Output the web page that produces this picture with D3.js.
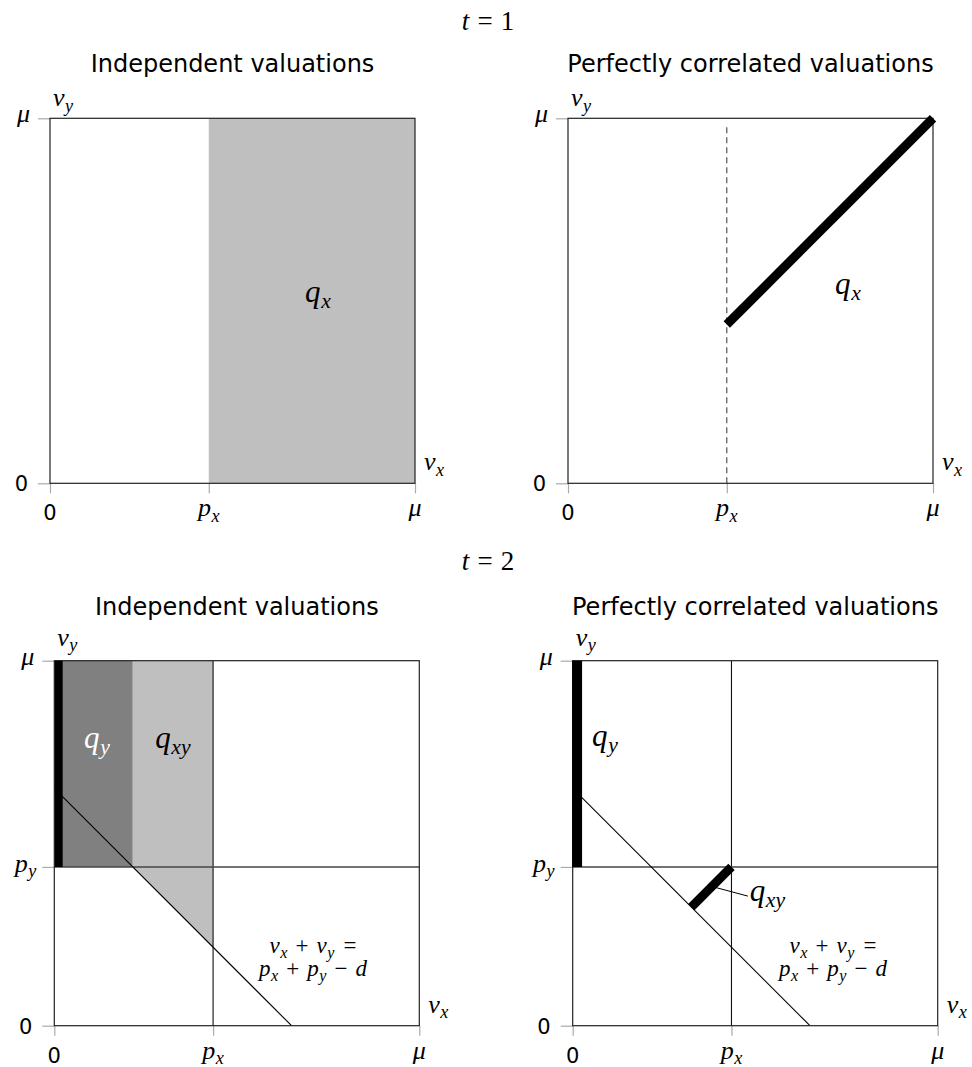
<!DOCTYPE html>
<meta charset="utf-8">
<title>Valuations t=1, t=2</title>
<style>
  body { margin: 0; background: #fff; }
  svg text { white-space: pre; }
  .mi { font-family: "Liberation Serif", "DejaVu Serif", serif; font-style: italic; }
  .mr { font-family: "Liberation Serif", "DejaVu Serif", serif; }
  .sans { font-family: "DejaVu Sans", sans-serif; }
  .tick line { stroke: #aaa; stroke-width: 1.2px; }
</style>
<body>
<svg width="972" height="1067"></svg>
<script src="https://d3js.org/d3.v7.min.js"></script>
<script>
  // thresholds (share of mu)
  const px = 0.435;
  const py = 0.435;

  const panelTitles = ["Independent valuations", "Perfectly correlated valuations"];
  const periodLabels = ["1", "2"];

  // ticks
  const xTickValues = [0, px, 1];
  const xTickNames = ["0", "p", "μ"];
  const xTickSubs = [null, "x", null];
  const yTickValuesT1 = [0, 1];
  const yTickNamesT1 = ["0", "μ"];
  const yTickSubsT1 = [null, null];
  const yTickValuesT2 = [0, py, 1];
  const yTickNamesT2 = ["0", "p", "μ"];
  const yTickSubsT2 = [null, "y", null];

  // regions and segments, in (v_x, v_y)
  const t1IndepRegion = [[0.435, 0], [1, 0], [1, 1], [0.435, 1]];
  const t1CorrSegment = [[0.435, 0.435], [1, 1]];
  const t2QyRegion = [[0.012, 0.435], [0.215, 0.435], [0.215, 1], [0.012, 1]];
  const t2QxyRegion = [[0.215, 0.435], [0.215, 1], [0.435, 1], [0.435, 0.215]];
  const t2QySegment = [[0.012, 0.435], [0.012, 1]];
  const t2QxySegment = [[0.435, 0.435], [0.325, 0.325]];
  const t2SumLine = [[0, 0.65], [0.65, 0]];
  const t2Leader = [[0.383, 0.381], [0.48, 0.355]];

  const svg = d3.select("svg");
  const size = 365;

  // panel origins (left, top)
  const panels = [
    { left: 50, top: 118.3, row: 0, col: 0 },
    { left: 568, top: 118.3, row: 0, col: 1 },
    { left: 54.3, top: 660.7, row: 1, col: 0 },
    { left: 572.7, top: 660.7, row: 1, col: 1 }
  ];

  // parts: [text, kind, dx in em]; kind i = italic, r = roman, sub = subscript
  function mathLabel(sel, parts, x, y, fs, anchor, fill) {
    const t = sel.append("text")
      .attr("x", x).attr("y", y)
      .attr("text-anchor", anchor || "start")
      .attr("fill", fill || "#000")
      .style("font-size", fs + "px");
    let lowered = false;
    parts.forEach(function (p) {
      const s = p[0], kind = p[1], dx = p[2] || 0;
      const sp = t.append("tspan").text(s);
      if (dx) sp.attr("dx", dx * fs);
      if (kind === "sub") {
        sp.attr("class", "mi").attr("dy", fs * 0.2).style("font-size", (fs * 0.7) + "px");
        lowered = true;
      } else {
        if (lowered) { sp.attr("dy", -fs * 0.2); lowered = false; }
        sp.attr("class", kind === "i" ? "mi" : "mr");
      }
    });
    return t;
  }

  function sym(name, sub) {
    const parts = [[name, "i"]];
    if (sub) parts.push([sub, "sub", 0.02]);
    return parts;
  }

  // period headings
  periodLabels.forEach(function (lab, i) {
    mathLabel(svg, [["t", "i"], ["=", "r", 0.3], [lab, "r", 0.3]], 488, i === 0 ? 30 : 570, 27, "middle");
  });

  panels.forEach(function (p, i) {
    const g = svg.append("g");
    const x = d3.scaleLinear().domain([0, 1]).range([p.left, p.left + size]);
    const y = d3.scaleLinear().domain([0, 1]).range([p.top + size, p.top]);
    const line = d3.line().x(d => x(d[0])).y(d => y(d[1]));
    const bottom = p.top + size, right = p.left + size;

    // title
    g.append("text").attr("class", "sans")
      .attr("x", (p.left + right) / 2).attr("y", p.top - 46)
      .attr("text-anchor", "middle").style("font-size", "24px")
      .text(panelTitles[p.col]);

    // shading
    if (i === 0) {
      g.append("path").attr("d", line(t1IndepRegion) + "Z").attr("fill", "#bfbfbf");
    }
    if (i === 2) {
      g.append("path").attr("d", line(t2QyRegion) + "Z").attr("fill", "#808080");
      g.append("path").attr("d", line(t2QxyRegion) + "Z").attr("fill", "#bfbfbf");
    }

    // ticks
    const yVals = p.row === 0 ? yTickValuesT1 : yTickValuesT2;
    const yNames = p.row === 0 ? yTickNamesT1 : yTickNamesT2;
    const ySubs = p.row === 0 ? yTickSubsT1 : yTickSubsT2;
    g.append("g").attr("transform", "translate(0," + bottom + ")")
      .call(d3.axisBottom(x).tickValues(xTickValues).tickSize(10).tickFormat(""))
      .call(a => a.select(".domain").remove());
    g.append("g").attr("transform", "translate(" + p.left + ",0)")
      .call(d3.axisLeft(y).tickValues(yVals).tickSize(12).tickFormat(""))
      .call(a => a.select(".domain").remove());

    // x tick labels
    xTickValues.forEach(function (v, k) {
      if (xTickNames[k] === "0") {
        g.append("text").attr("class", "sans").attr("x", x(v)).attr("y", bottom + 37)
          .attr("text-anchor", "middle").style("font-size", "21px").text("0");
      } else {
        mathLabel(g, sym(xTickNames[k], xTickSubs[k]), x(v), bottom + 33, 26, "middle");
      }
    });
    // y tick labels
    yVals.forEach(function (v, k) {
      if (yNames[k] === "0") {
        g.append("text").attr("class", "sans").attr("x", p.left - 22).attr("y", y(v) + 8)
          .attr("text-anchor", "end").style("font-size", "21px").text("0");
      } else if (ySubs[k]) {
        mathLabel(g, sym(yNames[k], ySubs[k]), p.left - 18, y(v) + 5, 26, "end");
      } else {
        mathLabel(g, sym(yNames[k], ySubs[k]), p.left - 20, y(v) + 4, 26, "end");
      }
    });

    // axis names
    mathLabel(g, sym("v", "y"), p.left + 3, p.top - (p.row === 0 ? 12 : 15), 26, "start");
    mathLabel(g, sym("v", "x"), right + 9, bottom - 13, 26, "start");

    // guide lines
    if (i === 1) {
      g.append("line")
        .attr("x1", x(px)).attr("x2", x(px)).attr("y1", y(0)).attr("y2", y(0.985))
        .attr("stroke", "#555").attr("stroke-width", 1.2).attr("stroke-dasharray", "6,4");
    }
    if (p.row === 1) {
      g.append("line").attr("x1", x(px)).attr("x2", x(px)).attr("y1", y(0)).attr("y2", y(1))
        .attr("stroke", "#111").attr("stroke-width", 1.1);
      g.append("line").attr("x1", x(0)).attr("x2", x(1)).attr("y1", y(py)).attr("y2", y(py))
        .attr("stroke", "#444").attr("stroke-width", 1.4);
      g.append("path").attr("d", line(t2SumLine)).attr("stroke", "#000").attr("stroke-width", 1.1).attr("fill", "none");
    }

    // frame
    g.append("rect").attr("x", p.left).attr("y", p.top).attr("width", size).attr("height", size)
      .attr("fill", "none").attr("stroke", "#222").attr("stroke-width", 1.2);

    // thick segments and labels
    if (i === 0) {
      mathLabel(g, sym("q", "x"), 318, 302, 31, "middle");
    }
    if (i === 1) {
      g.append("path").attr("d", line(t1CorrSegment)).attr("stroke", "#000").attr("stroke-width", 9).attr("fill", "none");
      mathLabel(g, sym("q", "x"), 848, 294, 31, "middle");
    }
    if (i === 2) {
      g.append("path").attr("d", line(t2QySegment)).attr("stroke", "#000").attr("stroke-width", 8).attr("fill", "none");
      mathLabel(g, sym("q", "y"), x(0.117), 748, 31, "middle", "#fff");
      mathLabel(g, sym("q", "xy"), x(0.325), 748, 31, "middle");
    }
    if (i === 3) {
      g.append("path").attr("d", line(t2QySegment)).attr("stroke", "#000").attr("stroke-width", 10).attr("fill", "none");
      mathLabel(g, sym("q", "y"), x(0.053), 746, 31, "start");
      g.append("path").attr("d", line(t2QxySegment)).attr("stroke", "#000").attr("stroke-width", 9).attr("fill", "none");
      g.append("path").attr("d", line(t2Leader)).attr("stroke", "#000").attr("stroke-width", 1).attr("fill", "none");
      mathLabel(g, sym("q", "xy"), x(0.485), 901, 31, "start");
    }
    if (p.row === 1) {
      const cx = p.col === 0 ? 313 : 833;
      mathLabel(g, [["v", "i"], ["x", "sub", 0.02], ["+", "r", 0.35], ["v", "i", 0.35], ["y", "sub", 0.02], ["=", "r", 0.4]], cx, 953, 23, "middle");
      mathLabel(g, [["p", "i"], ["x", "sub", 0.02], ["+", "r", 0.35], ["p", "i", 0.35], ["y", "sub", 0.02], ["−", "r", 0.35], ["d", "i", 0.35]], cx, 976, 23, "middle");
    }
  });
</script>
</body>
